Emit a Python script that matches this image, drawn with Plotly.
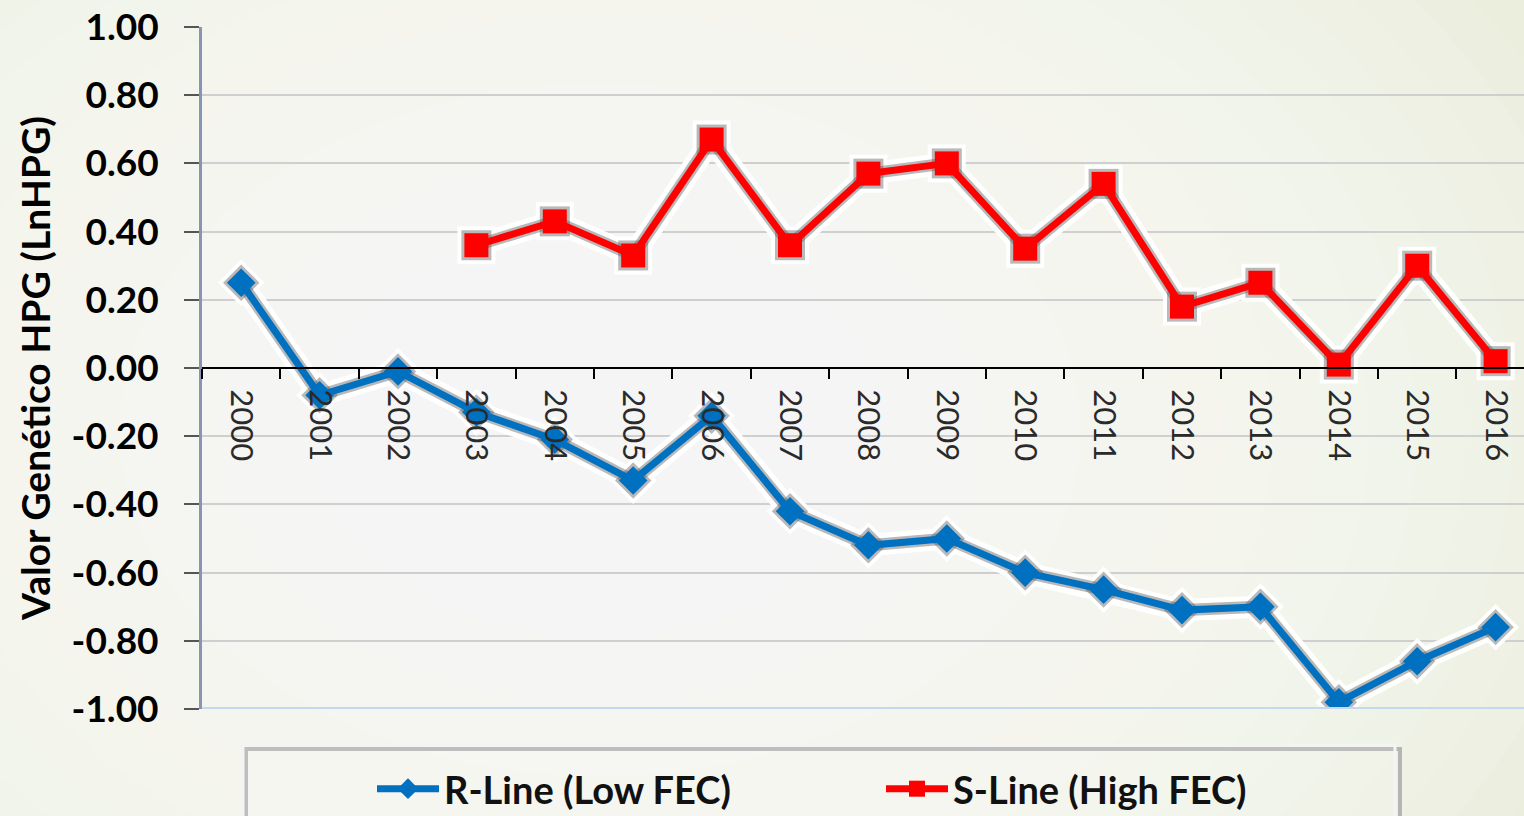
import plotly.graph_objects as go

# Categories and series values
years = ["2000", "2001", "2002", "2003", "2004", "2005", "2006", "2007", "2008",
         "2009", "2010", "2011", "2012", "2013", "2014", "2015", "2016"]
r_line = [0.25, -0.08, -0.01, -0.13, -0.21, -0.33, -0.14, -0.42, -0.52,
          -0.50, -0.60, -0.65, -0.71, -0.70, -0.98, -0.86, -0.76]
s_years = ["2003", "2004", "2005", "2006", "2007", "2008", "2009", "2010",
           "2011", "2012", "2013", "2014", "2015", "2016"]
s_line = [0.36, 0.43, 0.33, 0.67, 0.36, 0.57, 0.60, 0.35, 0.54, 0.18,
          0.25, 0.01, 0.30, 0.02]
y_ticks = [1.0, 0.8, 0.6, 0.4, 0.2, 0.0, -0.2, -0.4, -0.6, -0.8, -1.0]
y_tick_text = ["1.00", "0.80", "0.60", "0.40", "0.20", "0.00",
               "-0.20", "-0.40", "-0.60", "-0.80", "-1.00"]

W, H = 1524, 816
ML, MR, MT, MB = 202, 0, 27, 107
PW, PH = W - ML - MR, H - MT - MB


def px(x):
    return (x - ML) / PW


def py(y):
    return (H - MB - y) / PH


BLUE = "#0070c0"
RED = "#ff0000"

fig = go.Figure()

# soft halo + shadow under each series
for xs, ys, sym, size in [(years, r_line, "diamond", 22), (s_years, s_line, "square", 24)]:
    fig.add_trace(go.Scatter(
        x=xs, y=ys, mode="lines+markers", showlegend=False, hoverinfo="skip",
        line=dict(color="rgba(255,255,255,0.95)", width=22),
        marker=dict(symbol=sym, size=size + 14, color="rgba(255,255,255,0.95)"),
    ))
    fig.add_trace(go.Scatter(
        x=xs, y=ys, mode="lines+markers", showlegend=False, hoverinfo="skip",
        line=dict(color="rgba(80,80,80,0.4)", width=12),
        marker=dict(symbol=sym, size=size + 6, color="rgba(80,80,80,0.4)"),
    ))

fig.add_trace(go.Scatter(
    x=years, y=r_line, mode="lines+markers", name="R-Line (Low FEC)",
    line=dict(color=BLUE, width=7),
    marker=dict(symbol="diamond", size=22, color=BLUE),
))
fig.add_trace(go.Scatter(
    x=s_years, y=s_line, mode="lines+markers", name="S-Line (High FEC)",
    line=dict(color=RED, width=7),
    marker=dict(symbol="square", size=24, color=RED),
))

# radial background glow
shapes = []
cx, cy = 600, 430
steps = 26
for i in range(steps):
    f = 1 - i / steps
    rx, ry = 1250 * f, 900 * f
    shapes.append(dict(
        type="circle", xref="paper", yref="paper", layer="below",
        x0=px(cx - rx), x1=px(cx + rx), y0=py(cy + ry), y1=py(cy - ry),
        fillcolor="rgba(255,255,255,0.085)", line=dict(width=0),
    ))
# bottom border of the plot area
shapes.append(dict(type="line", xref="paper", yref="y", x0=0, x1=1, y0=-1, y1=-1,
                   line=dict(color="#c5d8ef", width=4), layer="above"))
# legend frame: shadow then light edge
shapes.append(dict(type="rect", xref="paper", yref="paper",
                   x0=px(246), x1=px(1400), y0=py(843), y1=py(749),
                   line=dict(color="#b5b5b5", width=4),
                   fillcolor="rgba(0,0,0,0)", layer="below"))
shapes.append(dict(type="rect", xref="paper", yref="paper",
                   x0=px(243), x1=px(1395), y0=py(840), y1=py(745),
                   line=dict(color="#f4f4f4", width=3),
                   fillcolor="rgba(255,255,255,0.12)", layer="below"))

fig.update_layout(
    width=W, height=H,
    margin=dict(l=ML, r=MR, t=MT, b=MB, autoexpand=False),
    paper_bgcolor="#e4ead0",
    plot_bgcolor="rgba(0,0,0,0)",
    shapes=shapes,
    font=dict(family="Lato, 'Open Sans', sans-serif", color="#000000"),
    showlegend=True,
    legend=dict(
        orientation="h", x=px(372), xanchor="left", y=py(789), yanchor="middle",
        font=dict(size=38, family="Lato", weight="bold", color="#111111"),
        itemwidth=62, entrywidth=432, entrywidthmode="pixels",
        bgcolor="rgba(0,0,0,0)", borderwidth=0, itemclick=False,
    ),
    xaxis=dict(
        type="category", categoryorder="array", categoryarray=years,
        range=[-0.5, -0.5 + PW / 78.4],
        anchor="free", position=0.5,
        showline=True, linecolor="#000000", linewidth=2,
        ticks="outside", tickson="boundaries", ticklen=10, tickwidth=2,
        tickcolor="#000000", tickangle=90, ticklabelstandoff=14,
        tickfont=dict(size=31, family="Lato", color="#2a2a2a"),
        showgrid=False, zeroline=False, fixedrange=True,
    ),
    yaxis=dict(
        range=[-1, 1], tickvals=y_ticks, ticktext=y_tick_text,
        ticks="outside", ticklen=15, tickwidth=2, tickcolor="#555555",
        showline=True, linecolor="#8496b0", linewidth=3,
        showgrid=True, gridcolor="#cfcfcf", gridwidth=2,
        zeroline=False, ticklabelstandoff=18,
        tickfont=dict(size=37, family="Lato", weight="bold", color="#000000"),
        title=dict(text="Valor Genético HPG (LnHPG)", standoff=9,
                   font=dict(size=39, family="Lato", weight="bold", color="#000000")),
        fixedrange=True,
    ),
)

fig.write_html("out.html")
